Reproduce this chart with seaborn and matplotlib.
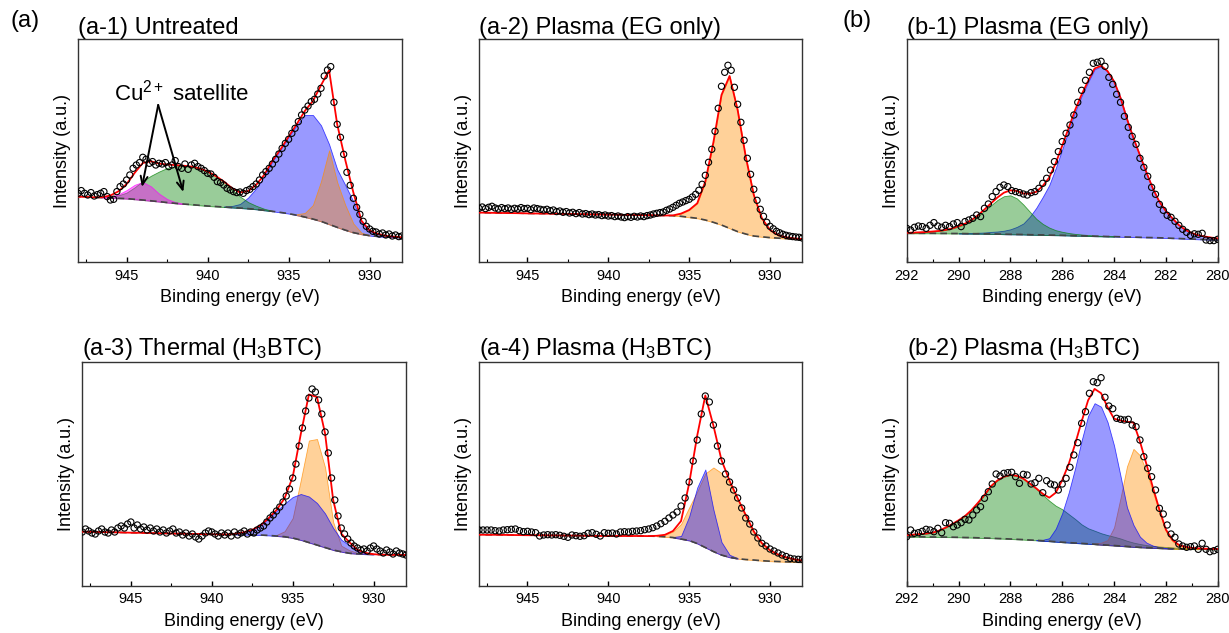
import numpy as np
import matplotlib
matplotlib.use('Agg')
import matplotlib.pyplot as plt
from matplotlib.colors import to_rgba
from matplotlib.ticker import MultipleLocator
import seaborn as sns

# energy grids (eV): fitted curves and measured points
cu_fit_ev = np.linspace(948, 928, 41)
cu_data_ev = np.linspace(948, 928, 101)
cu_data_ev_a4 = np.linspace(948, 928, 81)
c_fit_ev = np.linspace(292, 280, 49)
c_data_ev = np.linspace(292, 280, 81)

# ---- (a-1) Untreated, Cu 2p3/2 ----
a1_bg = [65.7, 65.3, 65.0, 64.6, 64.3, 64.0, 63.7, 63.0, 62.3, 61.5, 60.7, 59.8, 59.0, 58.3,
         57.7, 57.0, 56.3, 55.8, 55.3, 54.8, 54.3, 53.7, 53.0, 52.0, 51.0, 49.9, 48.7, 47.1,
         45.3, 43.3, 41.0, 38.0, 35.0, 32.2, 29.7, 28.0, 26.7, 25.9, 25.3, 25.0, 24.7]
a1_blue = (939.0, [0.5, 1.5, 4, 11, 21, 34, 50, 63, 77, 90, 102, 104, 96, 80, 58, 45, 31, 12,
                   4.5, 2.5, 1.2, 0.6, 0.3])
a1_green = (946.0, [1, 3, 6, 12, 19, 25, 30, 34.5, 37, 38, 38, 37, 34.5, 30.5, 25, 18, 11.5,
                    6.5, 3.5, 1.5, 0.5])
a1_purple = (946.5, [0.5, 1.5, 4, 8.5, 14.5, 18, 14.5, 8, 3.5, 1.2, 0.3])
a1_orange = (934.5, [1, 4, 14, 40, 74, 45, 25, 9, 1.5, 0.5])
a1_data = [69.0, 71.7, 69.0, 67.3, 69.7, 66.3, 67.7, 69.0, 70.7, 65.7,
           62.3, 63.0, 70.7, 75.7, 78.3, 82.3, 87.3, 94.0, 97.3, 99.7,
           105.0, 103.0, 99.0, 100.7, 97.3, 99.0, 98.3, 99.7, 95.7, 97.3,
           101.7, 95.7, 94.0, 98.3, 93.0, 97.3, 99.0, 95.7, 94.0, 91.7,
           89.0, 88.3, 85.0, 80.7, 79.7, 77.3, 74.0, 72.3, 70.7, 69.7,
           70.3, 69.0, 71.7, 73.0, 75.7, 78.3, 82.3, 87.3, 90.7, 94.0,
           98.3, 103.0, 108.3, 114.0, 119.0, 123.0, 129.0, 134.0, 140.7, 147.3,
           152.3, 156.3, 160.7, 163.0, 168.3, 174.0, 186.3, 192.3, 195.7, 160.0,
           138.0, 125.0, 108.0, 90.0, 77.0, 64.0, 55.0, 48.0, 41.0, 36.0,
           33.3, 31.0, 30.3, 28.3, 29.3, 27.3, 28.3, 26.3, 27.3, 25.7,
           26.3]

# ---- (a-2) Plasma (EG only), Cu 2p3/2 ----
a2_bg = [49.7, 49.6, 49.4, 49.3, 49.2, 49.1, 48.9, 48.8, 48.7, 48.6, 48.5, 48.3, 48.2, 48.1,
         47.9, 47.8, 47.7, 47.6, 47.4, 47.3, 47.2, 47.1, 46.9, 46.8, 46.6, 46.0, 45.0, 44.0,
         42.3, 40.0, 37.3, 34.0, 30.7, 28.3, 26.3, 25.5, 24.7, 24.2, 23.7, 23.3, 23.0]
a2_orange = (936.0, [0.3, 2.7, 7.3, 15, 38.4, 80, 130, 152.3, 121.6, 77.4, 41, 18.5, 7.6, 3.1,
                     1.3, 0.6, 0.3])
a2_data = [54.0, 55.3, 53.7, 55.0, 56.0, 54.3, 53.3, 54.7, 53.7, 54.3,
           53.0, 54.0, 53.3, 54.7, 53.7, 54.0, 52.7, 54.3, 53.7, 53.0,
           52.3, 53.0, 51.7, 52.3, 50.7, 51.3, 50.0, 50.7, 49.3, 50.0,
           48.7, 49.7, 48.3, 48.7, 47.7, 48.3, 47.3, 47.7, 46.7, 47.3,
           46.3, 46.7, 45.7, 46.3, 45.3, 44.7, 45.7, 45.0, 46.0, 45.3,
           46.3, 45.7, 46.7, 47.3, 48.3, 49.0, 49.7, 50.3, 52.0, 53.3,
           55.0, 57.0, 59.0, 60.3, 61.7, 63.0, 65.3, 68.0, 72.0, 78.0,
           87.0, 100.0, 113.0, 131.0, 154.0, 176.0, 190.0, 197.0, 192.0, 175.0,
           158.0, 140.0, 122.0, 104.0, 88.0, 73.0, 62.0, 53.0, 46.0, 40.0,
           36.0, 33.5, 31.0, 29.5, 28.0, 27.0, 26.3, 25.7, 25.3, 25.0,
           24.3]

# ---- (a-3) Thermal (H3BTC), Cu 2p3/2 ----
a3_bg = [54.3, 54.1, 54.0, 53.8, 53.7, 53.5, 53.3, 53.2, 53.0, 52.8, 52.7, 52.5, 52.3, 52.2,
         52.0, 51.8, 51.7, 51.6, 51.5, 51.4, 51.3, 51.2, 51.0, 50.6, 50.0, 49.3, 48.0, 46.0,
         43.5, 41.0, 38.5, 36.0, 34.3, 32.8, 32.2, 31.8, 31.5, 31.3, 31.2, 31.1, 31.0]
a3_orange = (936.0, [1, 5.5, 20, 60, 102, 106, 80, 28, 6, 3, 1, 0.3])
a3_blue = (938.5, [1, 2.5, 5, 9.5, 17, 25, 33, 41, 46, 46, 42, 34, 22, 12, 8, 3, 1, 0.3])
a3_data = [54, 57, 55, 53, 52, 55, 57, 54, 53, 56,
           54, 58, 60, 58, 62, 64, 58, 61, 57, 59,
           56, 58, 55, 57, 54, 56, 53, 55, 57, 53,
           54, 51, 53, 50, 52, 49, 47, 50, 53, 55,
           54, 52, 50, 53, 51, 53, 50, 54, 51, 53,
           55, 52, 54, 53, 56, 58, 60, 64, 68, 71,
           75, 79, 84, 90, 97, 108, 122, 140, 158, 175,
           188, 197, 194, 186, 172, 154, 133, 108, 86, 70,
           58, 52, 47, 43, 40, 38, 36, 37, 35, 38,
           40, 37, 35, 33, 36, 34, 32, 35, 33, 32,
           31]

# ---- (a-4) Plasma (H3BTC), Cu 2p3/2 ----
a4_bg = [51.3, 51.2, 51.2, 51.1, 51.0, 50.9, 50.8, 50.8, 50.7, 50.6, 50.5, 50.4, 50.4, 50.3,
         50.2, 50.1, 50.0, 50.0, 50.0, 50.0, 50.0, 49.9, 49.7, 49.2, 48.5, 47.0, 45.5, 42.5,
         38.5, 34.5, 31.0, 28.7, 27.3, 26.5, 26.0, 25.3, 24.8, 24.5, 24.2, 23.9, 23.7]
a4_orange = (937.0, [0.5, 2, 6, 15, 33, 52, 74, 84, 82, 74, 60, 44.5, 28.5, 17.5, 11, 7, 4.5,
                     2.8, 1.8])
a4_blue = (936.0, [0.5, 3, 24, 56, 78, 42, 13, 2.5, 0.5])
a4_data = [56.0, 56.0, 56.0, 56.0, 55.3, 55.0, 56.0, 56.3, 56.7, 57.0,
           55.3, 54.3, 54.7, 54.0, 53.3, 50.0, 51.0, 51.3, 51.0, 51.3,
           50.7, 49.7, 48.7, 51.0, 50.3, 49.7, 50.3, 52.7, 53.3, 51.7,
           50.0, 53.3, 52.7, 53.0, 52.0, 54.0, 54.3, 54.0, 54.7, 55.0,
           55.3, 56.3, 57.0, 58.3, 60.0, 62.3, 64.7, 68.0, 71.0, 74.0,
           80.0, 88.0, 104.0, 125.0, 146.0, 172.0, 190.0, 184.0, 161.0, 140.0,
           125.0, 112.0, 104.0, 96.0, 88.0, 78.0, 68.0, 62.0, 54.0, 48.0,
           42.7, 40.0, 37.0, 35.0, 33.0, 31.0, 29.5, 27.7, 27.0, 26.7,
           26.7]

# ---- (b-1) Plasma (EG only), C 1s ----
b1_bg = [29.0, 29.0, 29.0, 29.0, 29.0, 28.9, 28.9, 28.8, 28.8, 28.7, 28.6, 28.6, 28.5, 28.4,
         28.3, 28.1, 28.0, 27.9, 27.8, 27.6, 27.5, 27.4, 27.2, 27.1, 27.0, 26.8, 26.6, 26.5,
         26.3, 26.1, 26.0, 25.8, 25.7, 25.5, 25.3, 25.2, 25.0, 24.8, 24.7, 24.5, 24.3, 24.0,
         23.8, 23.5, 23.3, 23.0, 22.8, 22.5, 22.3]
b1_blue = (290.0, [0.3, 0.45, 0.6, 0.9, 1.3, 2, 2.5, 3.5, 5, 7.5, 11, 18, 27, 38, 50, 67, 86,
                   105, 124, 140, 154, 167, 170, 165, 155, 139, 118, 99, 82, 65, 49, 36, 27,
                   20, 13.5, 9, 6, 4, 3, 2.2, 1.6])
b1_green = (292.0, [0.5, 0.7, 1, 1.3, 1.8, 2.5, 3.5, 5, 7, 9.5, 13, 17.5, 23, 28.5, 34, 38, 39,
                    36, 30, 23, 16, 11, 7.5, 5, 3.5, 2.5, 1.8, 1.3, 1, 0.7, 0.5, 0.4, 0.3])
b1_data = [34, 32.3, 35, 36.3, 35.7, 34, 37, 39.7, 36.3, 35,
           37, 35.7, 38.3, 39.7, 35.7, 40.7, 42.3, 44, 47.3, 45.7,
           54, 58.3, 65.7, 70.7, 75, 77.3, 75.7, 71.7, 70.7, 69.7,
           68.3, 67.3, 69.7, 70.7, 74, 79, 84, 92.3, 100.7, 110.7,
           120.7, 129, 137.3, 147.3, 160, 172, 182, 190, 199, 200,
           201, 196, 185, 178, 168, 160, 146, 135, 126, 118,
           104, 95, 86, 75, 68, 58, 52, 47, 45, 41,
           37, 33, 30, 27, 28.5, 28, 29, 22.3, 21.7, 21.7,
           23]

# ---- (b-2) Plasma (H3BTC), C 1s ----
b2_bg = [49.3, 49.2, 49.2, 49.1, 49.0, 48.9, 48.9, 48.8, 48.7, 48.5, 48.4, 48.2, 48.0, 47.8,
         47.5, 47.3, 47.0, 46.7, 46.4, 46.0, 45.7, 45.2, 44.8, 44.3, 43.8, 43.4, 43.0, 42.6,
         42.2, 41.8, 41.3, 40.9, 40.5, 40.0, 39.6, 39.1, 38.7, 38.4, 38.1, 37.8, 37.5, 37.3,
         37.1, 37.0, 36.9, 36.8, 36.8, 36.7, 36.7]
b2_green = (292.0, [1.5, 2.2, 2.8, 3.3, 4.3, 6.5, 9.5, 13, 17, 21.5, 27.5, 35, 43, 52, 58, 62,
                    64, 63.5, 61, 56.5, 51.5, 46, 40.5, 36, 33, 28.5, 24, 19, 15.5, 13.5, 11.5,
                    10, 8.8, 7.5, 5.6, 4.3, 3.3, 2.5, 2, 1.7, 1.5, 1.2, 1, 0.85, 0.7, 0.6, 0.5,
                    0.4, 0.3])
b2_orange = (284.75, [0.8, 2, 5, 18, 48, 80, 98, 92, 76, 56, 36, 17, 7.5, 3, 1.3, 0.6, 0.3])
b2_blue = (287.0, [0.4, 1, 3, 13, 29, 50, 75, 103, 128, 141, 138, 123, 100, 70, 39, 22, 10.6,
                   5, 2.3, 1, 0.5, 0.2])
b2_data = [49.3, 56, 52.7, 53.3, 54.7, 56.7, 56, 54.3, 57.7, 53.3,
           63.3, 62.7, 59.3, 61, 63.3, 66.7, 66, 71, 76, 79.3,
           87.7, 94.3, 102, 112, 110, 112.7, 113.3, 113.7, 109.3, 102.7,
           111.7, 111, 102, 103.3, 107.7, 93.3, 105.3, 102, 101, 96,
           102, 107.7, 118.7, 131, 143.3, 162.7, 174.3, 192.7, 204.3, 203.3,
           208.3, 188.7, 180, 177.3, 167.7, 166.7, 166, 166.7, 161, 159.3,
           146, 129.3, 117.7, 109.3, 96, 77.7, 72, 61, 52, 48.7,
           42, 40, 38.7, 39.3, 40, 36.7, 42.7, 36.7, 34.3, 35.3,
           36.7]

BLUE, GREEN, ORANGE, MAGENTA = '#0000ff', '#008000', '#ff8c00', '#ff00ff'
FILL_ALPHA = {BLUE: 0.4, GREEN: 0.4, ORANGE: 0.4, MAGENTA: 0.45}

sns.set_style('ticks')
plt.rcParams['font.family'] = ['Liberation Sans', 'DejaVu Sans']
plt.rcParams['mathtext.fontset'] = 'custom'
plt.rcParams['mathtext.rm'] = 'Liberation Sans'
plt.rcParams['mathtext.it'] = 'Liberation Sans:italic'
plt.rcParams['mathtext.bf'] = 'Liberation Sans:bold'
plt.rcParams['text.color'] = 'black'
plt.rcParams['axes.labelcolor'] = 'black'
plt.rcParams['xtick.color'] = 'black'

W, H = 1229, 633
fig = plt.figure(figsize=(W / 100, H / 100), dpi=100)


def add_axes(left, right, top, bottom):
    return fig.add_axes([left / W, 1 - bottom / H, (right - left) / W, (bottom - top) / H])


def draw_panel(ax, fit_ev, bg, comps, data_ev, data_i, xlim, major, minor, ymax, title):
    bg = np.asarray(bg, dtype=float)
    step = abs(fit_ev[1] - fit_ev[0])
    env = bg.copy()
    for color, (start, vals) in comps:
        vals = np.asarray(vals, dtype=float)
        i0 = int(round(abs(fit_ev[0] - start) / step))
        sl = slice(i0, i0 + len(vals))
        ax.fill_between(fit_ev[sl], bg[sl], bg[sl] + vals,
                        facecolor=to_rgba(color, FILL_ALPHA[color]),
                        edgecolor=to_rgba(color, 0.7), linewidth=0.6, zorder=1)
        env[sl] += vals
    sns.lineplot(x=fit_ev, y=bg, ax=ax, color='#444444', linewidth=1.2,
                 linestyle=(0, (4, 2.5)), zorder=2, legend=False)
    sns.lineplot(x=fit_ev, y=env, ax=ax, color='red', linewidth=1.3, zorder=3, legend=False)
    sns.scatterplot(x=data_ev, y=data_i, ax=ax, s=20, facecolor='none', edgecolor='black',
                    linewidth=0.8, zorder=4, legend=False)

    ax.set_xlim(xlim)
    ax.set_ylim(0, ymax)
    ax.set_yticks([])
    ax.xaxis.set_major_locator(MultipleLocator(major))
    ax.xaxis.set_minor_locator(MultipleLocator(minor))
    ax.tick_params(axis='x', which='both', direction='in', top=False, bottom=True,
                   labelsize=10.5, pad=4.5, colors='black')
    ax.tick_params(axis='x', which='major', length=3.5, width=1.0)
    ax.tick_params(axis='x', which='minor', length=2.2, width=0.8)
    for sp in ax.spines.values():
        sp.set_visible(True)
        sp.set_linewidth(1.0)
        sp.set_color('#333333')
    ax.set_xlabel('Binding energy (eV)', fontsize=13, labelpad=5)
    ax.set_ylabel('Intensity (a.u.)', fontsize=13, labelpad=5)
    ax.set_title(title, loc='left', fontsize=17, pad=3.5)


ax1 = add_axes(78, 402, 39, 262.3)
draw_panel(ax1, cu_fit_ev, a1_bg,
           [(BLUE, a1_blue), (GREEN, a1_green), (MAGENTA, a1_purple), (ORANGE, a1_orange)],
           cu_data_ev, a1_data, (948, 928), 5, 2.5, 223.3, '(a-1) Untreated')
ax1.text(941.6, 170, r'Cu$^{\mathregular{2+}}$ satellite', fontsize=16, ha='center', va='center')
for tip in [(944.05, 75.3), (941.5, 70.3)]:
    ax1.annotate('', xy=tip, xytext=(943.05, 157.3),
                 arrowprops=dict(arrowstyle='->,head_length=0.6,head_width=0.25',
                                 lw=1.4, color='black', shrinkA=0, shrinkB=0))

ax2 = add_axes(479, 802.3, 39, 262.3)
draw_panel(ax2, cu_fit_ev, a2_bg, [(ORANGE, a2_orange)],
           cu_data_ev, a2_data, (948, 928), 5, 2.5, 223.3, '(a-2) Plasma (EG only)')

ax3 = add_axes(906.7, 1217.7, 39, 262.3)
draw_panel(ax3, c_fit_ev, b1_bg, [(BLUE, b1_blue), (GREEN, b1_green)],
           c_data_ev, b1_data, (292, 280), 2, 1, 223.3, '(b-1) Plasma (EG only)')

ax4 = add_axes(82.3, 406, 362.3, 586)
draw_panel(ax4, cu_fit_ev, a3_bg, [(ORANGE, a3_orange), (BLUE, a3_blue)],
           cu_data_ev, a3_data, (948, 928), 5, 2.5, 223.7,
           r'(a-3) Thermal (H$_\mathregular{3}$BTC)')

ax5 = add_axes(479, 802.3, 362.3, 586)
draw_panel(ax5, cu_fit_ev, a4_bg, [(ORANGE, a4_orange), (BLUE, a4_blue)],
           cu_data_ev_a4, a4_data, (948, 928), 5, 2.5, 223.7,
           r'(a-4) Plasma (H$_\mathregular{3}$BTC)')

ax6 = add_axes(906.7, 1217.7, 362.3, 586)
draw_panel(ax6, c_fit_ev, b2_bg, [(GREEN, b2_green), (ORANGE, b2_orange), (BLUE, b2_blue)],
           c_data_ev, b2_data, (292, 280), 2, 1, 223.7,
           r'(b-2) Plasma (H$_\mathregular{3}$BTC)')

fig.text(10 / W, 1 - 10 / H, '(a)', fontsize=17, ha='left', va='top')
fig.text(843 / W, 1 - 10 / H, '(b)', fontsize=17, ha='left', va='top')

fig.savefig('out.png', dpi=100)
plt.close(fig)
